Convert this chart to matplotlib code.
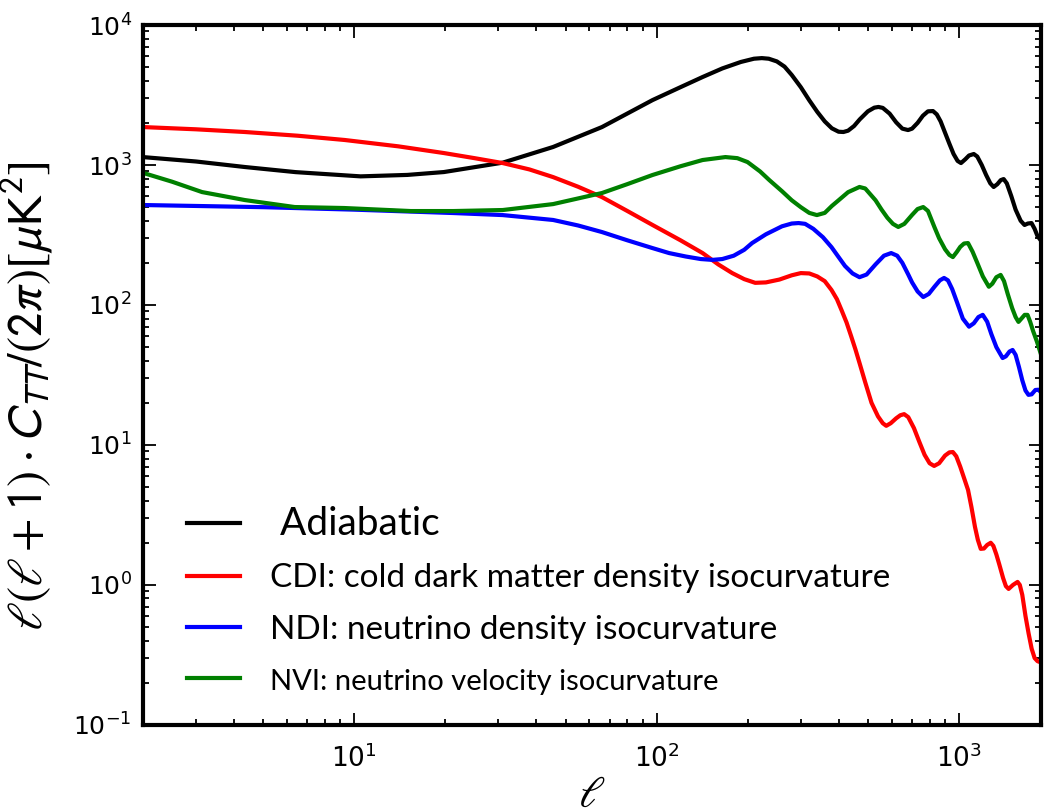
import numpy as np
import matplotlib
matplotlib.use("Agg")
import matplotlib.pyplot as plt

## Spectra (ell, l(l+1)C_TT/2pi in muK^2)
ell_ad = [2, 3, 4.35, 6.4, 10.5, 15, 19.8, 31, 45.5, 66, 97, 120, 142, 165, 190,
          210, 223, 235, 250, 265, 280, 300, 320, 340, 360, 380, 400, 415, 430,
          450, 470, 500, 525, 542, 560, 590, 620, 650, 679, 700, 730, 760, 790,
          821, 845, 870, 900, 930, 960, 990, 1016, 1050, 1080, 1120, 1150, 1190,
          1230, 1270, 1303, 1340, 1375, 1406, 1440, 1490, 1540, 1600, 1648, 1690,
          1738, 1780, 1820, 1862]
cl_ad = [1140, 1060, 968, 890, 830, 850, 891, 1040, 1346, 1868, 2911, 3600, 4254,
         4900, 5450, 5750, 5808, 5750, 5500, 5050, 4400, 3600, 2900, 2400, 2050,
         1830, 1730, 1722, 1760, 1900, 2120, 2420, 2570, 2600, 2560, 2330, 2020,
         1820, 1778, 1820, 2000, 2250, 2420, 2430, 2300, 2050, 1700, 1420, 1200,
         1070, 1033, 1100, 1170, 1199, 1150, 1000, 850, 740, 697, 730, 780, 794,
         740, 600, 480, 400, 373, 382, 385, 350, 310, 291]

ell_cdi = [2, 3, 4.35, 6.5, 9.3, 14, 19.8, 25, 31, 38, 45.5, 55, 66, 80, 97, 120,
           142, 160, 178, 195, 212, 230, 255, 280, 300, 320, 340, 360, 379, 395,
           409, 425, 440, 455, 470, 490, 514, 540, 560, 575, 595, 620, 640, 659,
           680, 710, 740, 770, 800, 828, 860, 900, 930, 955, 980, 1010, 1040,
           1072, 1100, 1130, 1155, 1181, 1210, 1240, 1274, 1300, 1330, 1360, 1400,
           1430, 1460, 1510, 1563, 1590, 1620, 1660, 1700, 1740, 1780, 1820, 1862]
cl_cdi = [1868, 1800, 1722, 1620, 1510, 1360, 1218, 1120, 1033, 930, 820, 700,
          590, 470, 373, 290, 235, 195, 169, 153, 144, 145, 152, 163, 169, 168,
          160, 148, 128, 110, 92, 75, 60, 48, 38, 28, 20, 16, 14.3, 13.7, 14.3,
          15.5, 16.3, 16.6, 15.8, 13.2, 10.5, 8.5, 7.4, 7.08, 7.4, 8.4, 8.85, 8.9,
          8.3, 7.0, 5.8, 4.77, 3.6, 2.6, 2.1, 1.81, 1.82, 1.93, 2.0, 1.9, 1.65,
          1.4, 1.12, 0.98, 0.936, 1.0, 1.05, 1.0, 0.85, 0.6, 0.45, 0.35, 0.3,
          0.285, 0.28]

ell_ndi = [2, 3, 5, 10, 21.3, 31, 45.5, 55, 66, 80, 97, 110, 125, 140, 153, 165,
           180, 195, 207, 230, 260, 280, 295, 310, 330, 355, 379, 400, 420, 445,
           469, 495, 530, 565, 597, 625, 650, 680, 700, 730, 762, 795, 830, 865,
           893, 920, 950, 985, 1030, 1080, 1120, 1160, 1199, 1240, 1280, 1330,
           1395, 1430, 1470, 1505, 1540, 1580, 1620, 1660, 1698, 1740, 1790, 1830,
           1862]
cl_ndi = [518, 510, 500, 480, 454, 439, 405, 370, 332, 290, 255, 235, 222, 213,
          210, 213, 225, 248, 277, 320, 365, 382, 385, 380, 350, 305, 259, 220,
          190, 168, 158, 165, 195, 225, 235, 225, 200, 165, 145, 125, 114, 120,
          135, 150, 156, 150, 130, 105, 80, 70, 74, 82, 85, 76, 62, 50, 41.8, 43,
          46.5, 47.7, 44, 36, 29, 24.5, 22.8, 23, 24.7, 24.8, 24]

ell_nvi = [2, 2.5, 3.14, 4.35, 6.36, 9.27, 15.4, 21.3, 31, 45.5, 66, 80, 97, 120,
           142, 169, 185, 200, 220, 236, 260, 280, 300, 320, 339, 360, 380, 400,
           430, 469, 490, 530, 555, 580, 605, 630, 660, 700, 730, 762, 790, 830,
           860, 900, 930, 955, 985, 1010, 1040, 1072, 1110, 1150, 1200, 1256, 1290,
           1330, 1374, 1410, 1450, 1500, 1540, 1574, 1610, 1650, 1686, 1720, 1760,
           1810, 1862]
cl_nvi = [880, 760, 641, 562, 501, 493, 469, 469, 477, 526, 631, 730, 849, 980,
          1086, 1140, 1120, 1050, 900, 781, 650, 560, 500, 455, 439, 455, 510, 560,
          640, 697, 680, 560, 480, 420, 380, 361, 380, 440, 485, 501, 470, 360,
          300, 250, 228, 220, 240, 260, 275, 277, 240, 200, 160, 135, 142, 158,
          164, 148, 120, 95, 82, 75.7, 80, 85, 85, 76, 65, 55, 45.4]

labels = [" Adiabatic",
          "CDI: cold dark matter density isocurvature",
          "NDI: neutrino density isocurvature",
          "NVI: neutrino velocity isocurvature"]
colors = ["k", "r", "b", "g"]

plt.rcParams["mathtext.fontset"] = "stixsans"

fig = plt.figure(figsize=(10.5, 8.09), dpi=100)
ax = fig.add_axes([0.136, 0.104, 0.855, 0.865])

series = [(ell_ad, cl_ad), (ell_cdi, cl_cdi), (ell_ndi, cl_ndi), (ell_nvi, cl_nvi)]
for (x, y), c, lab in zip(series, colors, labels):
  ax.plot(x, y, color=c, lw=3, label=lab, solid_joinstyle="round")

ax.set_xscale("log")
ax.set_yscale("log")
ax.set_xlim(2, 1862)
ax.set_ylim(1e-1, 1e4)

for s in ax.spines.values():
  s.set_linewidth(3)
ax.tick_params(which="both", direction="in", top=True, right=True)
ax.tick_params(which="major", length=9, width=1.3)
ax.tick_params(which="minor", length=4.5, width=1.3)
ax.tick_params(axis="y", labelsize=18, pad=8)
ax.tick_params(axis="x", labelsize=19, pad=14)

ax.set_ylabel(r"$\ell(\ell+1)\cdot C_{TT}/(2\pi)[\mu{\rm K}^2]$", fontsize=35, labelpad=8)
ax.yaxis.set_label_coords(-0.098, 0.47)
ax.set_xlabel(r"$\ell$", fontsize=32, labelpad=0)

sizes = [28, 24, 24, 21]
leg = ax.legend(loc="lower left", bbox_to_anchor=(0.016, 0.0), frameon=False,
                handlelength=1.6, handletextpad=0.9, labelspacing=0.65,
                prop={"family": "Lato", "size": 24})
for t, fs in zip(leg.get_texts(), sizes):
  t.set_fontsize(fs)
for h in leg.get_lines():
  h.set_linewidth(3)

fig.savefig("out.png", dpi=100)
